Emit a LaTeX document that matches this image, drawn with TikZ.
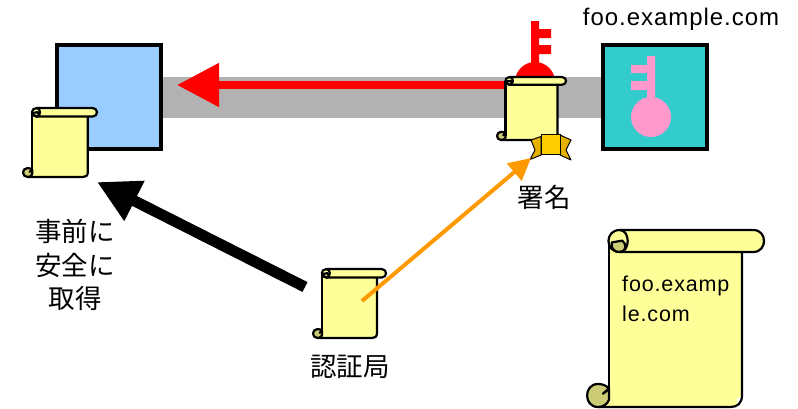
\documentclass[tikz,border=0pt]{standalone}
\usepackage{fontspec}
\setmainfont[LetterSpace=4]{Liberation Sans}
\newfontfamily\jp{Noto Sans CJK JP}
\usetikzlibrary{arrows.meta}
\definecolor{scrollfill}{HTML}{FFFF99}
\definecolor{scrollcurl}{HTML}{CCCC77}
\definecolor{bluefill}{HTML}{99CCFF}
\definecolor{tealfill}{HTML}{33CCCC}
\definecolor{keypink}{HTML}{FF99CC}
\definecolor{barcol}{HTML}{B2B2B2}
\definecolor{orangecol}{HTML}{FF9900}
\definecolor{goldcol}{HTML}{FFCC00}
\definecolor{golddark}{HTML}{E6B000}
\newcommand{\scrollshape}[5]{% x y w h linewidth
 \begin{scope}[shift={(#1,#2)},x=#3pt,y=-#4pt,line width=#5pt,draw=black,line join=round]
  \fill[scrollfill] (.124,.06) rectangle (.876,.95);
  \fill[scrollfill] (.06,.94) rectangle (.85,1);
  \draw (.124,.062) -- (.124,.94);
  \draw (.876,.124) -- (.876,.93) .. controls (.876,.98) and (.85,1) .. (.81,1) -- (.062,1);
  \draw[fill=scrollfill] (.185,0) -- (.94,0) .. controls (1.02,0) and (1.02,.124) .. (.94,.124) -- (.185,.124)
     .. controls (.10,.124) and (.10,0) .. (.185,0) -- cycle;
  \draw[fill=scrollcurl] (.185,.124) .. controls (.145,.124) and (.135,.095) .. (.14,.07) -- (.2,.06)
     .. controls (.225,.08) and (.225,.124) .. (.185,.124) -- cycle;
  \draw (.185,0) .. controls (.245,0) and (.245,.124) .. (.185,.124);
  \draw[fill=scrollcurl] (.062,.87) .. controls (-.02,.87) and (-.02,1) .. (.062,1)
     .. controls (.09,1) and (.115,.985) .. (.124,.96) -- (.124,.895) -- (.09,.925) -- (.124,.9)
     .. controls (.115,.88) and (.09,.87) .. (.062,.87) -- cycle;
 \end{scope}}
\begin{document}
\begin{tikzpicture}[x=1pt,y=-1pt,
  lbl/.style={inner sep=0pt,text=black},
  jplabel/.style={lbl,font=\jp\fontsize{26.5}{33.5}\selectfont,align=center},
  latinlabel/.style={lbl,font=\fontsize{21.5}{29.5}\selectfont,align=left,text width=130pt},
  box/.style={draw=black,line width=4pt,minimum width=104pt,minimum height=104pt,inner sep=0pt}]
\useasboundingbox (0,0) rectangle (798,408);
\fill[barcol] (162,77) rectangle (601,118);
\node[box,fill=bluefill] (client) at (108.5,97) {};
\node[box,fill=tealfill] (server) at (655,97) {};
% red key
\fill[red] (531,21) rectangle (539,70) (539,29) rectangle (551,38) (539,45) rectangle (551,54);
\fill[red] (535,82) circle[radius=20];
% pink key
\fill[keypink] (647,56) rectangle (655,105) (631,65) rectangle (647,73) (631,81) rectangle (647,90);
\fill[keypink] (651,117) circle[radius=20];
% red arrow
\coordinate (redstart) at (511,85);
\coordinate (redtip) at (177,85);
\draw[red,line width=8pt,-{Triangle[length=42pt,width=42pt]}] (redstart) -- (redtip);
\scrollshape{497}{77}{69}{63}{2.2}
% ribbon
\draw[fill=golddark,line width=1pt,line join=round] (541,136.5) -- (531,140) -- (535,150) -- (530,159.5) -- (541,155) -- cycle;
\draw[fill=golddark,line width=1pt,line join=round] (560,135) -- (571,140) -- (566,150) -- (571,160) -- (560,155) -- cycle;
\draw[fill=goldcol,line width=1pt] (541,134) rectangle (560,154);
\scrollshape{23}{108}{74}{69}{2.2}
\scrollshape{313}{269}{73}{69}{2.2}
\scrollshape{587}{230}{177}{177}{2.2}
% arrows
\coordinate (blackstart) at (305,287);
\coordinate (blacktip) at (97,182);
\draw[black,line width=11pt,-{Triangle[length=42pt,width=42pt]}] (blackstart) -- (blacktip);
\coordinate (orangestart) at (362,301);
\coordinate (orangetip) at (531,158);
\draw[orangecol,line width=4pt,-{Triangle[length=22pt,width=22pt]}] (orangestart) -- (orangetip);
% labels
\node[lbl,font=\fontsize{24}{29}\selectfont,anchor=center] (fooname) at (681,19) {foo.example.com};
\node[jplabel] (sign) at (544,197) {署名};
\node[jplabel] (get) at (75,265) {事前に\\安全に\\取得};
\node[jplabel] (ca) at (350,367) {認証局};
\node[latinlabel,anchor=north west] (certtext) at (622,276) {foo.examp\\le.com};
\end{tikzpicture}
\end{document}
